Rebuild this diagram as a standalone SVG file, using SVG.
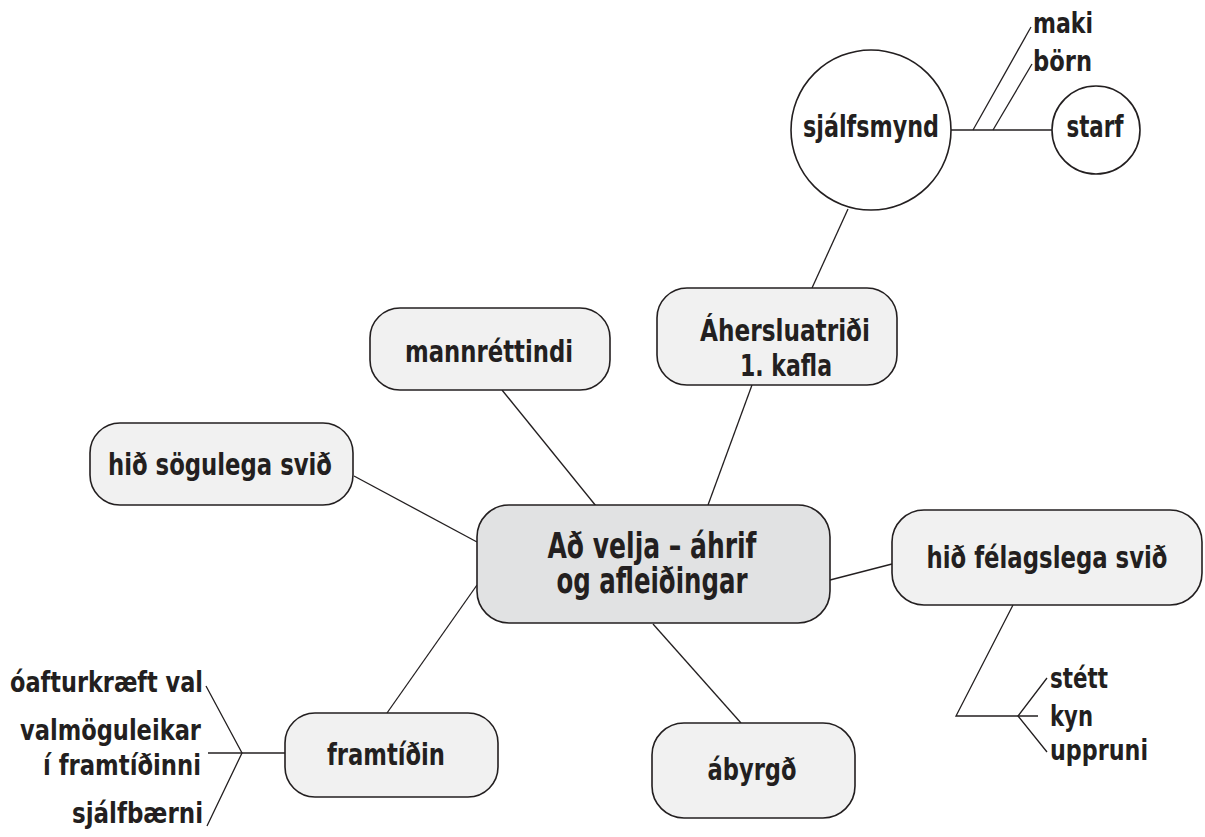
<svg xmlns="http://www.w3.org/2000/svg" width="1205" height="837" viewBox="0 0 1205 837">
<style>
.box{fill:#f1f1f1;stroke:#231f20;stroke-width:1.6}
.main{fill:#e1e2e3;stroke:#231f20;stroke-width:1.6}
.circ{fill:#ffffff;stroke:#231f20;stroke-width:1.6}
.ln{stroke:#231f20;stroke-width:1.3;fill:none}
text{font-family:"Liberation Sans Narrow","DejaVu Sans Condensed","Liberation Sans",sans-serif;font-weight:bold;fill:#231f20}
.t{font-size:30px;text-anchor:middle}
.m{font-size:35px;text-anchor:middle}
.l{font-size:28px}
.r{font-size:28px;text-anchor:end}
</style>
<rect width="1205" height="837" fill="#ffffff"/>
<g id="connectors">
<line class="ln" x1="848" y1="209" x2="812" y2="288"/>
<line class="ln" x1="752" y1="385" x2="708" y2="505"/>
<line class="ln" x1="502" y1="390" x2="596" y2="506"/>
<line class="ln" x1="354" y1="476" x2="477" y2="542"/>
<line class="ln" x1="387" y1="713" x2="477" y2="585"/>
<line class="ln" x1="653" y1="624" x2="741" y2="723"/>
<line class="ln" x1="830" y1="580" x2="892" y2="564"/>
<line class="ln" x1="951" y1="130" x2="1052" y2="130"/>
<line class="ln" x1="973" y1="130" x2="1031" y2="27"/>
<line class="ln" x1="993" y1="130" x2="1032" y2="64"/>
<polyline class="ln" points="1013,605 956,716 1038,716"/>
<polyline class="ln" points="1047,678 1018,716 1047,752"/>
<line class="ln" x1="208" y1="753" x2="285" y2="753"/>
<polyline class="ln" points="206,686 242,753 207,826"/>
</g>
<g id="node-main">
<rect class="main" x="477" y="505" width="353" height="118" rx="32"/>
<text class="m" x="652" y="558" textLength="209" lengthAdjust="spacingAndGlyphs">Að velja – áhrif</text>
<text class="m" x="652" y="593" textLength="191" lengthAdjust="spacingAndGlyphs">og afleiðingar</text>
</g>
<g id="node-aherslu">
<rect class="box" x="657" y="288" width="240" height="97" rx="30"/>
<text class="t" x="785" y="341" textLength="170" lengthAdjust="spacingAndGlyphs">Áhersluatriði</text>
<text class="t" x="786" y="376" textLength="92" lengthAdjust="spacingAndGlyphs">1. kafla</text>
</g>
<g id="node-mannrettindi">
<rect class="box" x="370" y="308" width="240" height="82" rx="30"/>
<text class="t" x="489" y="362" textLength="168" lengthAdjust="spacingAndGlyphs">mannréttindi</text>
</g>
<g id="node-sogulega">
<rect class="box" x="90" y="423" width="263" height="82" rx="30"/>
<text class="t" x="220" y="475" textLength="224" lengthAdjust="spacingAndGlyphs">hið sögulega svið</text>
</g>
<g id="node-felagslega">
<rect class="box" x="892" y="510" width="310" height="95" rx="32"/>
<text class="t" x="1047" y="568" textLength="241" lengthAdjust="spacingAndGlyphs">hið félagslega svið</text>
</g>
<g id="node-framtidin">
<rect class="box" x="285" y="713" width="213" height="84" rx="30"/>
<text class="t" x="386" y="765" textLength="118" lengthAdjust="spacingAndGlyphs">framtíðin</text>
</g>
<g id="node-abyrgd">
<rect class="box" x="652" y="723" width="203" height="95" rx="32"/>
<text class="t" x="752" y="780" textLength="89" lengthAdjust="spacingAndGlyphs">ábyrgð</text>
</g>
<g id="node-sjalfsmynd">
<circle class="circ" cx="871" cy="130" r="80"/>
<text class="t" x="871" y="137" textLength="136" lengthAdjust="spacingAndGlyphs">sjálfsmynd</text>
</g>
<g id="node-starf">
<circle class="circ" cx="1096" cy="130" r="44"/>
<text class="t" x="1095" y="137" textLength="57" lengthAdjust="spacingAndGlyphs">starf</text>
</g>
<g id="leaf-maki"><text class="l" x="1033" y="33" textLength="60" lengthAdjust="spacingAndGlyphs">maki</text></g>
<g id="leaf-born"><text class="l" x="1033" y="71" textLength="59" lengthAdjust="spacingAndGlyphs">börn</text></g>
<g id="leaf-stett"><text class="l" x="1050" y="688" textLength="58" lengthAdjust="spacingAndGlyphs">stétt</text></g>
<g id="leaf-kyn"><text class="l" x="1050" y="726" textLength="43" lengthAdjust="spacingAndGlyphs">kyn</text></g>
<g id="leaf-uppruni"><text class="l" x="1050" y="760" textLength="98" lengthAdjust="spacingAndGlyphs">uppruni</text></g>
<g id="leaf-oafturkraeft"><text class="r" x="203" y="692" textLength="193" lengthAdjust="spacingAndGlyphs">óafturkræft val</text></g>
<g id="leaf-valmoguleikar">
<text class="r" x="201" y="740" textLength="181" lengthAdjust="spacingAndGlyphs">valmöguleikar</text>
<text class="r" x="201" y="775" textLength="158" lengthAdjust="spacingAndGlyphs">í framtíðinni</text>
</g>
<g id="leaf-sjalfbaerni"><text class="r" x="203" y="823" textLength="131" lengthAdjust="spacingAndGlyphs">sjálfbærni</text></g>
</svg>
